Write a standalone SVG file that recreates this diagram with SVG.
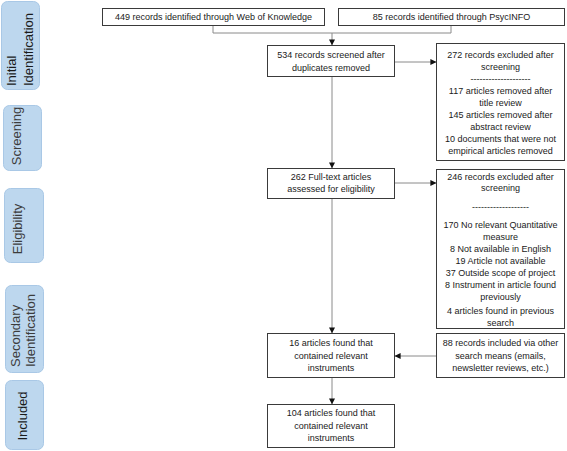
<svg xmlns="http://www.w3.org/2000/svg" width="567" height="451" viewBox="0 0 567 451">
<defs>
<marker id="arr" viewBox="0 0 8 8" refX="7.5" refY="4" markerWidth="6" markerHeight="6" markerUnits="userSpaceOnUse" orient="auto">
<path d="M0,0 L8,4 L0,8 z" fill="#111"/>
</marker>
</defs>
<style>
.box{fill:#fff;stroke:#3a3a3a;stroke-width:1}
.stage{fill:#bdd7ee;stroke:#a9c8e6;stroke-width:1}
.t{font-family:"Liberation Sans",Arial,sans-serif;font-size:9px;fill:#1a1a1a;text-anchor:middle}
.s{font-family:"Liberation Sans",Arial,sans-serif;font-size:13px;fill:#1a1a1a}
.sg{fill:#3c3c3c}
.c{fill:none;stroke:#8a8a8a;stroke-width:1}
</style>
<rect width="567" height="451" fill="#fff"/>

<g id="stage-initial">
<rect class="stage" x="1.5" y="1.5" width="38" height="88" rx="6"/>
<text class="s" transform="translate(16,86) rotate(-90)">Initial</text>
<text class="s" transform="translate(33,86) rotate(-90)">Identification</text>
</g>
<g id="stage-screening">
<rect class="stage" x="3.5" y="105.5" width="38" height="65" rx="6"/>
<text class="s sg" text-anchor="middle" transform="translate(21,136) rotate(-90)">Screening</text>
</g>
<g id="stage-eligibility">
<rect class="stage" x="4.5" y="188.5" width="39" height="74" rx="6"/>
<text class="s sg" text-anchor="middle" transform="translate(22,229) rotate(-90)">Eligibility</text>
</g>
<g id="stage-secondary">
<rect class="stage" x="5.5" y="285.5" width="38" height="87" rx="6"/>
<text class="s sg" transform="translate(20,367) rotate(-90)">Secondary</text>
<text class="s sg" transform="translate(35,367) rotate(-90)">Identification</text>
</g>
<g id="stage-included">
<rect class="stage" x="5.5" y="380.5" width="38" height="69" rx="6"/>
<text class="s" text-anchor="middle" transform="translate(27,416) rotate(-90)">Included</text>
</g>

<g id="connectors">
<polyline class="c" points="213,25 213,33 451,33 451,25"/>
<line class="c" x1="332" y1="33" x2="332" y2="45" marker-end="url(#arr)"/>
<line class="c" x1="395" y1="62" x2="436" y2="62" marker-end="url(#arr)"/>
<line class="c" x1="332" y1="77" x2="332" y2="168" marker-end="url(#arr)"/>
<line class="c" x1="395" y1="183" x2="436" y2="183" marker-end="url(#arr)"/>
<line class="c" x1="332" y1="199" x2="332" y2="333" marker-end="url(#arr)"/>
<line class="c" x1="436" y1="356" x2="395" y2="356" marker-end="url(#arr)"/>
<line class="c" x1="332" y1="377" x2="332" y2="404" marker-end="url(#arr)"/>
</g>

<g id="box-wok">
<rect class="box" x="102.5" y="8.5" width="222" height="17"/>
<text class="t" x="213.5" y="20">449 records identified through Web of Knowledge</text>
</g>
<g id="box-psycinfo">
<rect class="box" x="338.5" y="8.5" width="226" height="17"/>
<text class="t" x="451.5" y="20">85 records identified through PsycINFO</text>
</g>
<g id="box-screened">
<rect class="box" x="267.5" y="45.5" width="127" height="31"/>
<text class="t" x="331" y="58">534 records screened after</text>
<text class="t" x="331" y="71">duplicates removed</text>
</g>
<g id="box-excluded1">
<rect class="box" x="436.5" y="43.5" width="128" height="117"/>
<text class="t" x="500.5" y="58">272 records excluded after</text>
<text class="t" x="500.5" y="70">screening</text>
<text class="t" x="500.5" y="82">--------------------</text>
<text class="t" x="500.5" y="94">117 articles removed after</text>
<text class="t" x="500.5" y="106">title review</text>
<text class="t" x="500.5" y="118">145 articles removed after</text>
<text class="t" x="500.5" y="130">abstract review</text>
<text class="t" x="500.5" y="142">10 documents that were not</text>
<text class="t" x="500.5" y="154">empirical articles removed</text>
</g>
<g id="box-fulltext">
<rect class="box" x="267.5" y="168.5" width="127" height="30"/>
<text class="t" x="331" y="180">262 Full-text articles</text>
<text class="t" x="331" y="192">assessed for eligibility</text>
</g>
<g id="box-excluded2">
<rect class="box" x="436.5" y="169.5" width="128" height="159"/>
<text class="t" x="500.5" y="180">246 records excluded after</text>
<text class="t" x="500.5" y="191">screening</text>
<text class="t" x="500.5" y="210">-------------------</text>
<text class="t" x="500.5" y="228">170 No relevant Quantitative</text>
<text class="t" x="500.5" y="240">measure</text>
<text class="t" x="500.5" y="252">8 Not available in English</text>
<text class="t" x="500.5" y="264">19 Article not available</text>
<text class="t" x="500.5" y="276">37 Outside scope of project</text>
<text class="t" x="500.5" y="288">8 Instrument in article found</text>
<text class="t" x="500.5" y="300">previously</text>
<text class="t" x="500.5" y="314">4 articles found in previous</text>
<text class="t" x="500.5" y="326">search</text>
</g>
<g id="box-found16">
<rect class="box" x="267.5" y="333.5" width="127" height="44"/>
<text class="t" x="331" y="346">16 articles found that</text>
<text class="t" x="331" y="359">contained relevant</text>
<text class="t" x="331" y="371">instruments</text>
</g>
<g id="box-other">
<rect class="box" x="436.5" y="333.5" width="128" height="44"/>
<text class="t" x="500.5" y="346">88 records included via other</text>
<text class="t" x="500.5" y="359">search means (emails,</text>
<text class="t" x="500.5" y="371">newsletter reviews, etc.)</text>
</g>
<g id="box-found104">
<rect class="box" x="267.5" y="404.5" width="127" height="43"/>
<text class="t" x="331" y="416">104 articles found that</text>
<text class="t" x="331" y="429">contained relevant</text>
<text class="t" x="331" y="441">instruments</text>
</g>
</svg>
